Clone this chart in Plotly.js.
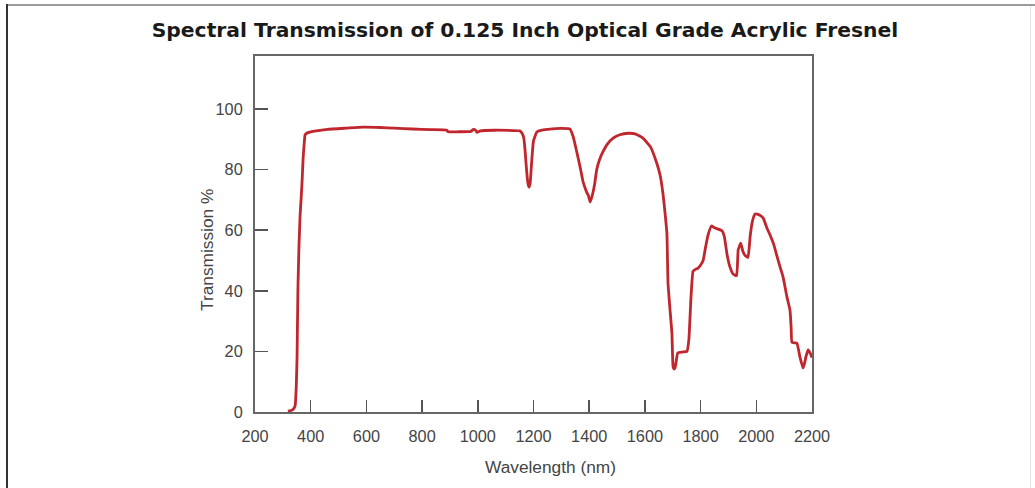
<!DOCTYPE html>
<html>
<head>
<meta charset="utf-8">
<script src="https://cdn.plot.ly/plotly-3.0.1.min.js"></script>
<style>
  html, body { margin: 0; padding: 0; background: #fff; }
  #wrap { position: relative; width: 1035px; height: 488px; overflow: hidden; }
  #chart { width: 1035px; height: 488px; }
  .frame-top { position: absolute; left: 6px; top: 4px; width: 1029px; height: 2px; background: #9a9a9a; }
  .frame-left { position: absolute; left: 6px; top: 4px; width: 2px; height: 484px; background: #333; }
  .frame-right { position: absolute; left: 1030px; top: 6px; width: 1px; height: 482px; background: #e4e4e4; }
</style>
</head>
<body>
<div id="wrap">
  <div id="chart"></div>
  <div class="frame-top"></div>
  <div class="frame-left"></div>
  <div class="frame-right"></div>
</div>
<script>
// Wavelength (nm)
const wavelength = [
  318, 330, 338, 344, 348, 351, 354, 358, 362, 366, 369, 373, 377, 380,
  390, 420, 460, 530, 588, 650, 700, 767, 830, 889,
  893, 930, 975, 983, 990, 997, 1010, 1060, 1126, 1150, 1159,
  1165, 1170, 1175, 1180, 1184, 1188, 1193, 1200, 1212, 1230, 1259, 1300, 1331,
  1342, 1355, 1367, 1378, 1385, 1392, 1397, 1403, 1408, 1414, 1420, 1427, 1438, 1450, 1466, 1486, 1510,
  1540, 1565, 1593, 1620, 1643, 1655, 1665, 1672, 1679, 1683, 1690, 1697, 1701, 1704, 1708, 1712,
  1718, 1735, 1751, 1758, 1765, 1773, 1780, 1791, 1800, 1809, 1818, 1827, 1839, 1850, 1877,
  1885, 1895, 1905, 1917, 1929, 1935, 1944, 1952, 1959, 1970, 1978, 1985, 1995, 2003, 2015,
  2025, 2037, 2049, 2062, 2074, 2085, 2096, 2110, 2121, 2125, 2128, 2138, 2146, 2157, 2168,
  2173, 2179, 2186, 2193, 2200
];
// Transmission (%)
const transmission = [
  0.3, 0.5, 1.0, 2.0, 8, 18, 40, 55, 65, 71, 76, 84, 89, 91.5,
  92.2, 92.8, 93.3, 93.7, 94.0, 93.9, 93.7, 93.4, 93.2, 93.0,
  92.5, 92.5, 92.6, 93.2, 93.2, 92.3, 92.8, 93.0, 92.9, 92.8, 92.0,
  90.5, 86, 80, 75.5, 74.2, 75.5, 82, 89.5, 92.4, 93.0, 93.4, 93.6, 93.4,
  91, 86, 81, 76, 74, 72.3, 71.5, 69.3, 70.5, 72.6, 75.5, 80, 83.5, 86, 88.5, 90.4, 91.5,
  92.0, 91.8, 90.4, 87.5, 82, 78, 72, 66, 59, 42.5, 34, 26, 15, 14.2, 14.5, 16.5,
  19.5, 19.8, 20, 24, 37, 46.5, 47, 47.5, 48.5, 50, 54.5, 58.5, 61.4, 60.8, 59.8,
  58, 52, 48, 45.5, 45, 53.5, 55.7, 53, 51.8, 51, 58, 62.5, 65.3, 65.3, 64.8,
  64, 61, 58.5, 55.5, 51.5, 48, 44.6, 38, 33.6, 28, 23, 22.8, 22.7, 18, 14.5,
  16, 18.5, 20.5, 19.5, 18
];
const xTickVals = [200, 400, 600, 800, 1000, 1200, 1400, 1600, 1800, 2000, 2200];
const yTickVals = [0, 20, 40, 60, 80, 100];
const xTitle = 'Wavelength (nm)';
const yTitle = 'Transmission %';
const chartTitle = 'Spectral Transmission of 0.125 Inch Optical Grade Acrylic Fresnel';

const trace = {
  x: wavelength,
  y: transmission,
  type: 'scatter',
  mode: 'lines',
  line: { color: '#c0262d', width: 2.8, shape: 'spline', smoothing: 0.4 },
  hoverinfo: 'x+y'
};

const tickFont = { family: 'Liberation Sans, Arial, sans-serif', size: 16.3, color: '#444' };
const titleFont = { family: 'Liberation Sans, Arial, sans-serif', size: 17.3, color: '#444' };

const layout = {
  width: 1035,
  height: 488,
  margin: { l: 255, r: 223, t: 56, b: 76, pad: 0 },
  paper_bgcolor: '#ffffff',
  plot_bgcolor: '#ffffff',
  showlegend: false,
  title: {
    text: '<b>' + chartTitle + '</b>',
    font: { family: 'DejaVu Sans, Arial Black, sans-serif', size: 20.3, color: '#1a1a1a' },
    x: 525 / 1035, xref: 'container', xanchor: 'center',
    y: 1 - 30 / 488, yref: 'container', yanchor: 'middle'
  },
  xaxis: {
    range: [200, 2200],
    tickvals: xTickVals,
    ticktext: xTickVals.map(String),
    ticks: 'inside',
    ticklen: 12,
    tickwidth: 1.5,
    tickcolor: '#555',
    showgrid: false,
    zeroline: false,
    showline: true,
    linecolor: '#666',
    linewidth: 2,
    mirror: true,
    tickfont: tickFont,
    ticklabelstandoff: 8,
    fixedrange: true
  },
  yaxis: {
    range: [0, 117.5],
    tickvals: yTickVals,
    ticktext: yTickVals.map(String),
    ticks: 'inside',
    ticklen: 13,
    tickwidth: 1.5,
    tickcolor: '#555',
    showgrid: false,
    zeroline: false,
    showline: true,
    linecolor: '#666',
    linewidth: 2,
    mirror: true,
    tickfont: tickFont,
    ticklabelstandoff: 7,
    fixedrange: true
  },
  annotations: [
    {
      text: xTitle, font: titleFont, showarrow: false,
      xref: 'paper', yref: 'paper',
      x: (550 - 255) / 557, y: -(467 - 412) / 356,
      xanchor: 'center', yanchor: 'middle'
    },
    {
      text: yTitle, font: titleFont, showarrow: false, textangle: -90,
      xref: 'paper', yref: 'paper',
      x: (207 - 255) / 557, y: (412 - 250) / 356,
      xanchor: 'center', yanchor: 'middle'
    }
  ]
};

Plotly.newPlot('chart', [trace], layout, { displayModeBar: false, staticPlot: true });
</script>
</body>
</html>
